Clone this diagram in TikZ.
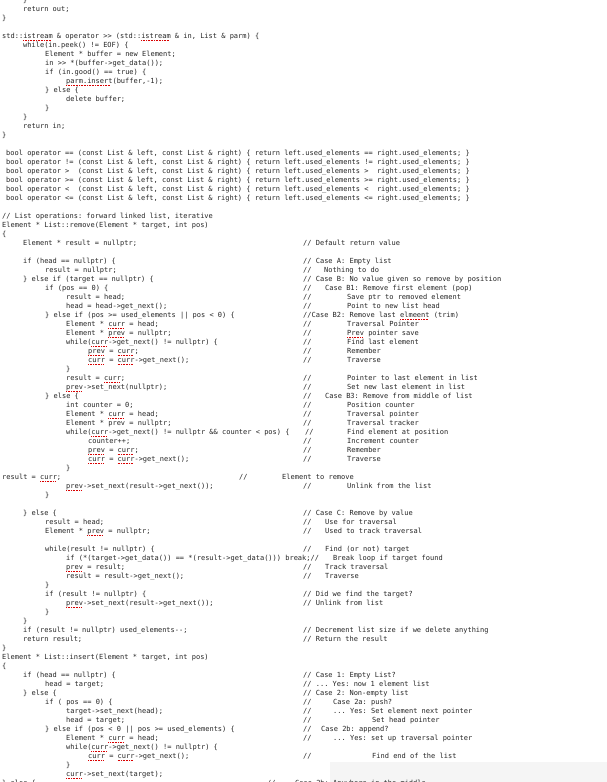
\documentclass[tikz,border=0pt]{standalone}
\usepackage{fontspec}
\setmonofont{DejaVu Sans Mono}
\newcommand\sq[1]{\setbox0\hbox{#1}\rlap{\textcolor{red!85!black}{\raisebox{-1.8pt}{\leaders\hbox to 1.6pt{\rule{0.9pt}{0.6pt}\hss}\hskip\wd0}}}\box0\relax}
\newcommand\C[4]{\node[ln] (#1) at (#2pt,-#3pt-2.5pt) {#4};}
\begin{document}
\begin{tikzpicture}[x=1pt,y=1pt,ln/.style={anchor=base west,inner sep=0pt,font=\ttfamily\fontsize{7}{8}\selectfont,text=black!85}]
\clip (0,0) rectangle (607,-782);
\fill[white] (0,0) rectangle (607,-782);
\fill[black!4] (330,-782) rectangle (607,-762);
\C{a1}{23}{0}{\}}
\C{a2}{23}{9}{return out;}
\C{a3}{2}{18}{\}}
\C{a4}{2}{36}{std::\sq{istream} \& operator >> (std::\sq{istream} \& in, List \& parm) \{}
\C{a5}{23}{45}{while(in.peek() != EOF) \{}
\C{a6}{45}{54}{Element * buffer = new Element;}
\C{a7}{45}{63}{in >> *(buffer->get\_data());}
\C{a8}{45}{72}{if (in.good() == true) \{}
\C{a9}{66}{81}{\sq{parm.insert}(buffer,-1);}
\C{a10}{45}{90}{\} else \{}
\C{a11}{66}{99}{delete buffer;}
\C{a12}{45}{108}{\}}
\C{a13}{23}{117}{\}}
\C{a14}{23}{126}{return in;}
\C{a15}{2}{135}{\}}
\C{b1}{6}{153}{bool operator == (const List \& left, const List \& right) \{ return left.used\_elements == right.used\_elements; \}}
\C{b2}{6}{162}{bool operator != (const List \& left, const List \& right) \{ return left.used\_elements != right.used\_elements; \}}
\C{b3}{6}{171}{bool operator >\ \ (const List \& left, const List \& right) \{ return left.used\_elements >\ \ right.used\_elements; \}}
\C{b4}{6}{180}{bool operator >= (const List \& left, const List \& right) \{ return left.used\_elements >= right.used\_elements; \}}
\C{b5}{6}{189}{bool operator <\ \ (const List \& left, const List \& right) \{ return left.used\_elements <\ \ right.used\_elements; \}}
\C{b6}{6}{198}{bool operator <= (const List \& left, const List \& right) \{ return left.used\_elements <= right.used\_elements; \}}
\C{c1}{2}{216}{// List operations: forward linked list, iterative}
\C{c2}{2}{225}{Element * List::remove(Element * target, int pos)}
\C{c3}{2}{234}{\{}
\C{c4}{23}{243}{Element * result = nullptr;}\C{c4m}{303}{243}{// Default return value}
\C{c5}{23}{261}{if (head == nullptr) \{}\C{c5m}{303}{261}{// Case A: Empty list}
\C{c6}{45}{270}{result = nullptr;}\C{c6m}{303}{270}{//}\C{c6t}{324}{270}{Nothing to do}
\C{c7}{23}{279}{\} else if (target == nullptr) \{}\C{c7m}{303}{279}{// Case B: No value given so remove by position}
\C{c8}{45}{288}{if (pos == 0) \{}\C{c8m}{303}{288}{//}\C{c8t}{325}{288}{Case B1: Remove first element (pop)}
\C{c9}{66}{297}{result = head;}\C{c9m}{303}{297}{//}\C{c9t}{347}{297}{Save ptr to removed element}
\C{c10}{66}{306}{head = head->get\_next();}\C{c10m}{303}{306}{//}\C{c10t}{347}{306}{Point to new list head}
\C{c11}{45}{315}{\} else if (pos >= used\_elements || pos < 0) \{}\C{c11m}{303}{315}{//Case B2: Remove last \sq{elmeent} (trim)}
\C{c12}{66}{324}{Element * \sq{curr} = head;}\C{c12m}{303}{324}{//}\C{c12t}{347}{324}{Traversal Pointer}
\C{c13}{66}{333}{Element * \sq{prev} = nullptr;}\C{c13m}{303}{333}{//}\C{c13t}{347}{333}{\sq{Prev} pointer save}
\C{c14}{66}{342}{while(\sq{curr}->get\_next() != nullptr) \{}\C{c14m}{303}{342}{//}\C{c14t}{347}{342}{Find last element}
\C{c15}{88}{351}{\sq{prev} = \sq{curr};}\C{c15m}{303}{351}{//}\C{c15t}{347}{351}{Remember}
\C{c16}{88}{360}{\sq{curr} = \sq{curr}->get\_next();}\C{c16m}{303}{360}{//}\C{c16t}{347}{360}{Traverse}
\C{c17}{66}{369}{\}}
\C{c18}{66}{378}{result = \sq{curr};}\C{c18m}{303}{378}{//}\C{c18t}{347}{378}{Pointer to last element in list}
\C{c19}{66}{387}{\sq{prev}->set\_next(nullptr);}\C{c19m}{303}{387}{//}\C{c19t}{347}{387}{Set new last element in list}
\C{c20}{45}{396}{\} else \{}\C{c20m}{303}{396}{//}\C{c20t}{325}{396}{Case B3: Remove from middle of list}
\C{d1}{66}{405}{int counter = 0;}\C{d1m}{303}{405}{//}\C{d1t}{347}{405}{Position counter}
\C{d2}{66}{414}{Element * \sq{curr} = head;}\C{d2m}{303}{414}{//}\C{d2t}{347}{414}{Traversal pointer}
\C{d3}{66}{423}{Element * prev = nullptr;}\C{d3m}{303}{423}{//}\C{d3t}{347}{423}{Traversal tracker}
\C{d4}{66}{432}{while(\sq{curr}->get\_next() != nullptr \&\& counter < pos) \{}\C{d4m}{305}{432}{//}\C{d4t}{347}{432}{Find element at position}
\C{d5}{88}{441}{counter++;}\C{d5m}{303}{441}{//}\C{d5t}{347}{441}{Increment counter}
\C{d6}{88}{450}{\sq{prev} = \sq{curr};}\C{d6m}{303}{450}{//}\C{d6t}{347}{450}{Remember}
\C{d7}{88}{459}{\sq{curr} = \sq{curr}->get\_next();}\C{d7m}{303}{459}{//}\C{d7t}{347}{459}{Traverse}
\C{d8}{66}{468}{\}}
\C{d9}{2}{477}{result = \sq{curr};}\C{d9m}{239}{477}{//}\C{d9t}{282}{477}{Element to remove}
\C{d10}{66}{486}{\sq{prev}->set\_next(result->get\_next());}\C{d10m}{303}{486}{//}\C{d10t}{347}{486}{Unlink from the list}
\C{d11}{45}{495}{\}}
\C{e1}{23}{513}{\} else \{}\C{e1m}{303}{513}{// Case C: Remove by value}
\C{e2}{45}{522}{result = head;}\C{e2m}{303}{522}{//}\C{e2t}{325}{522}{Use for traversal}
\C{e3}{45}{531}{Element * \sq{prev} = nullptr;}\C{e3m}{303}{531}{//}\C{e3t}{325}{531}{Used to track traversal}
\C{e4}{45}{549}{while(result != nullptr) \{}\C{e4m}{303}{549}{//}\C{e4t}{325}{549}{Find (or not) target}
\C{e5}{66}{558}{if (*(target->get\_data()) == *(result->get\_data())) break;//}\C{e5t}{333}{558}{Break loop if target found}
\C{e6}{66}{567}{\sq{prev} = result;}\C{e6m}{303}{567}{//}\C{e6t}{325}{567}{Track traversal}
\C{e7}{66}{576}{result = result->get\_next();}\C{e7m}{303}{576}{//}\C{e7t}{325}{576}{Traverse}
\C{e8}{45}{585}{\}}
\C{e9}{45}{594}{if (result != nullptr) \{}\C{e9m}{303}{594}{// Did we find the target?}
\C{e10}{66}{603}{\sq{prev}->set\_next(result->get\_next());}\C{e10m}{303}{603}{// Unlink from list}
\C{e11}{45}{612}{\}}
\C{e12}{23}{621}{\}}
\C{e13}{23}{630}{if (result != nullptr) used\_elements-{}-;}\C{e13m}{303}{630}{// Decrement list size if we delete anything}
\C{e14}{23}{639}{return result;}\C{e14m}{303}{639}{// Return the result}
\C{e15}{2}{648}{\}}
\C{f1}{2}{657}{Element * List::insert(Element * target, int pos)}
\C{f2}{2}{666}{\{}
\C{f3}{23}{675}{if (head == nullptr) \{}\C{f3m}{303}{675}{// Case 1: Empty List?}
\C{f4}{45}{684}{head = target;}\C{f4m}{303}{684}{// ... Yes: now 1 element list}
\C{f5}{23}{693}{\} else \{}\C{f5m}{303}{693}{// Case 2: Non-empty list}
\C{f6}{45}{702}{if ( pos == 0) \{}\C{f6m}{303}{702}{//}\C{f6t}{333}{702}{Case 2a: push?}
\C{f7}{66}{711}{target->set\_next(head);}\C{f7m}{303}{711}{//}\C{f7t}{333}{711}{... Yes: Set element next pointer}
\C{f8}{66}{720}{head = target;}\C{f8m}{303}{720}{//}\C{f8t}{372}{720}{Set head pointer}
\C{f9}{45}{729}{\} else if (pos < 0 || pos >= used\_elements) \{}\C{f9m}{303}{729}{//}\C{f9t}{321}{729}{Case 2b: append?}
\C{f10}{66}{738}{Element * \sq{curr} = head;}\C{f10m}{303}{738}{//}\C{f10t}{333}{738}{... Yes: set up traversal pointer}
\C{f11}{66}{747}{while(\sq{curr}->get\_next() != nullptr) \{}
\C{f12}{88}{756}{\sq{curr} = \sq{curr}->get\_next();}\C{f12m}{303}{756}{//}\C{f12t}{372}{756}{Find end of the list}
\C{f13}{66}{765}{\}}
\C{f14}{66}{774}{\sq{curr}->set\_next(target);}
\C{f15}{2}{783}{\} else \{}\C{f15m}{267}{783}{//}\C{f15t}{295}{783}{Case 2b: Anywhere in the middle}
\end{tikzpicture}
\end{document}
